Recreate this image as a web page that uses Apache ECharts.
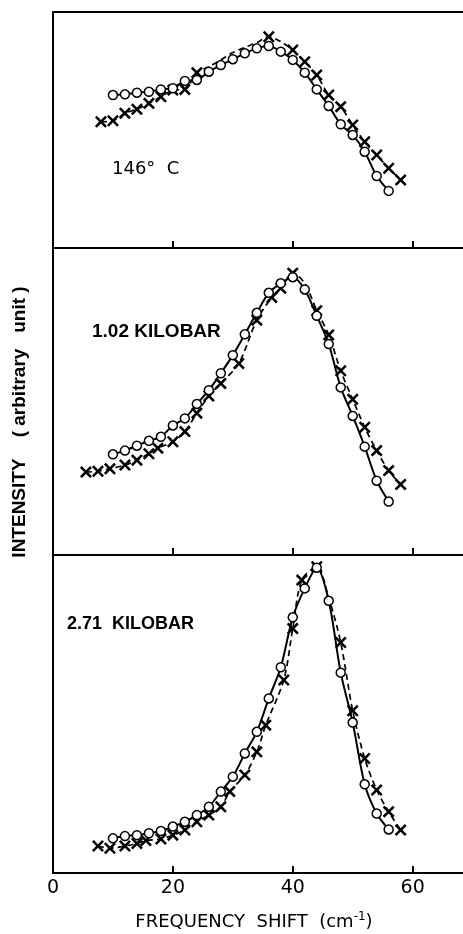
<!DOCTYPE html>
<html>
<head>
<meta charset="utf-8">
<script src="https://cdn.jsdelivr.net/npm/echarts@6/dist/echarts.min.js"></script>
<style>
  html, body { margin: 0; padding: 0; background: #fff; }
  #chart { width: 463px; height: 934px; }
</style>
</head>
<body>
<div id="chart"></div>
<script>
// frequency shift (cm-1) of the open-circle points, same in all three panels
const circleShift = [10, 12, 14, 16, 18, 20, 22, 24, 26, 28, 30, 32, 34, 36, 38, 40, 42, 44, 46, 48, 50, 52, 54, 56];

// 146 C panel
const circle146 = [64.8, 65.1, 65.8, 66.2, 67.2, 67.7, 70.8, 71.2, 74.7, 77.5, 80.0, 82.5, 84.6, 85.6, 83.2, 79.7, 74.3, 67.2, 60.2, 52.4, 47.9, 40.8, 30.5, 24.2];
const crossShift146 = [8, 10, 12, 14, 16, 18, 20, 22, 24, 26, 28, 30, 32, 34, 36, 38, 40, 42, 44, 46, 48, 50, 52, 54, 56, 58];
const cross146 = [53.5, 53.9, 57.1, 58.8, 61.3, 64.1, 66.9, 67.2, 74.3, 76.8, 79.7, 82.8, 85.0, 87.0, 89.5, 87.4, 83.9, 78.9, 73.3, 64.8, 59.9, 52.1, 45.0, 39.4, 33.8, 28.8];
const crossHidden146 = [26, 28, 30, 32, 34, 38];

// 1.02 kilobar panel
const circle102 = [32.8, 34.0, 35.6, 37.2, 38.5, 42.2, 44.5, 49.2, 53.7, 59.2, 65.1, 71.9, 78.9, 85.4, 88.5, 90.5, 86.5, 77.9, 68.7, 54.6, 45.3, 35.3, 24.2, 17.4];
const crossShift102 = [5.5, 7.5, 9.5, 12, 14, 16, 17.5, 20, 22, 24, 26, 28, 31, 34, 36.5, 38, 40, 42, 44, 46, 48, 50, 52, 54, 56, 58];
const cross102 = [27.0, 27.3, 28.1, 29.3, 30.9, 33.0, 34.8, 36.9, 40.2, 46.2, 51.8, 55.9, 62.4, 76.5, 83.9, 86.9, 91.8, 88.5, 79.6, 71.7, 60.0, 50.7, 41.6, 34.0, 27.5, 23.0];
const crossHidden102 = [42];

// 2.71 kilobar panel
const circle271 = [10.9, 11.6, 11.9, 12.5, 13.2, 14.6, 16.1, 18.2, 20.8, 25.6, 30.3, 37.6, 44.4, 54.9, 64.7, 80.4, 89.5, 96.0, 85.6, 63.0, 47.3, 27.9, 18.7, 13.7];
const crossShift271 = [7.5, 9.5, 12, 14, 15.5, 18, 20, 22, 24, 26, 28, 29.5, 32, 34, 35.5, 38.5, 40, 41.5, 44, 46, 48, 50, 52, 54, 56, 58];
const cross271 = [8.5, 7.8, 8.5, 9.3, 10.2, 10.7, 11.9, 13.5, 16.1, 18.2, 20.8, 25.6, 30.8, 38.1, 46.5, 60.7, 76.9, 92.1, 96.3, 86.5, 72.5, 51.0, 36.0, 26.1, 19.3, 13.5];
const crossHidden271 = [46];

const xTicks = [0, 20, 40, 60];

const CROSS = 'path://M0,1.5 L1.5,0 L5,3.5 L8.5,0 L10,1.5 L6.5,5 L10,8.5 L8.5,10 L5,6.5 L1.5,10 L0,8.5 L3.5,5 Z';

const panels = [
  { top: 12, height: 236, circles: circle146, crossX: crossShift146, crosses: cross146, hidden: crossHidden146 },
  { top: 248, height: 307, circles: circle102, crossX: crossShift102, crosses: cross102, hidden: crossHidden102 },
  { top: 555, height: 318, circles: circle271, crossX: crossShift271, crosses: cross271, hidden: crossHidden271 },
];

const chart = echarts.init(document.getElementById('chart'));

const grids = [];
const xAxes = [];
const yAxes = [];
const series = [];

panels.forEach((p, i) => {
  grids.push({ left: 53, right: 0, top: p.top, height: p.height });
  xAxes.push({
    gridIndex: i,
    type: 'value',
    min: 0,
    max: 68.4,
    interval: 20,
    axisLine: { show: true, lineStyle: { color: '#000', width: 2 } },
    axisTick: {
      show: true,
      inside: true,
      length: 7,
      customValues: xTicks.slice(1),
      lineStyle: { color: '#000', width: 2 },
    },
    axisLabel: {
      show: i === 2,
      customValues: xTicks,
      margin: 6,
      color: '#000',
      fontFamily: 'DejaVu Sans',
      fontSize: 19,
    },
    splitLine: { show: false },
  });
  yAxes.push({
    gridIndex: i,
    type: 'value',
    min: 0,
    max: 100,
    axisLine: { show: true, lineStyle: { color: '#000', width: 2 } },
    axisTick: { show: false },
    axisLabel: { show: false },
    splitLine: { show: false },
  });

  series.push({
    type: 'line',
    xAxisIndex: i,
    yAxisIndex: i,
    smooth: 0.3,
    symbol: CROSS,
    symbolSize: 12,
    z: 2,
    itemStyle: { color: '#000' },
    lineStyle: { color: '#000', width: 1.7, type: [6, 4] },
    data: p.crossX.map((x, k) =>
      p.hidden.includes(x)
        ? { value: [x, p.crosses[k]], symbol: 'none' }
        : [x, p.crosses[k]]
    ),
  });
  series.push({
    type: 'line',
    xAxisIndex: i,
    yAxisIndex: i,
    smooth: 0.3,
    symbol: 'circle',
    symbolSize: 9,
    z: 3,
    itemStyle: { color: '#fff', borderColor: '#000', borderWidth: 1.5 },
    lineStyle: { color: '#000', width: 2 },
    data: circleShift.map((x, k) => [x, p.circles[k]]),
  });
});

// closing line along the top of the first panel
xAxes.push({
  gridIndex: 0,
  type: 'value',
  position: 'top',
  min: 0,
  max: 68.4,
  axisLine: { show: true, lineStyle: { color: '#000', width: 2 } },
  axisTick: { show: false },
  axisLabel: { show: false },
  splitLine: { show: false },
});

chart.setOption({
  animation: false,
  backgroundColor: '#fff',
  grid: grids,
  xAxis: xAxes,
  yAxis: yAxes,
  series: series,
  graphic: [
    {
      type: 'text', left: 112, top: 160,
      style: { text: '146°  C', font: '18px "DejaVu Sans"', fill: '#000' },
    },
    {
      type: 'text', left: 92, top: 322,
      style: { text: '1.02 KILOBAR', font: 'bold 19px "Liberation Sans"', fill: '#000' },
    },
    {
      type: 'text', left: 67, top: 615,
      style: { text: '2.71  KILOBAR', font: 'bold 18px "Liberation Sans"', fill: '#000' },
    },
    {
      type: 'text', x: 20, y: 422, rotation: Math.PI / 2,
      style: {
        text: 'INTENSITY    ( arbitrary   unit )',
        font: 'bold 19px "Liberation Sans"',
        fill: '#000',
        align: 'center',
        verticalAlign: 'middle',
      },
    },
    {
      type: 'text', x: 254, y: 922,
      style: {
        text: '{a|FREQUENCY  SHIFT  (cm}{s|-1}{a|)}',
        align: 'center',
        verticalAlign: 'middle',
        rich: {
          a: { font: '18px "DejaVu Sans"', fill: '#000', lineHeight: 22 },
          s: { font: '12px "DejaVu Sans"', fill: '#000', lineHeight: 12, verticalAlign: 'top' },
        },
      },
    },
  ],
});
</script>
</body>
</html>
